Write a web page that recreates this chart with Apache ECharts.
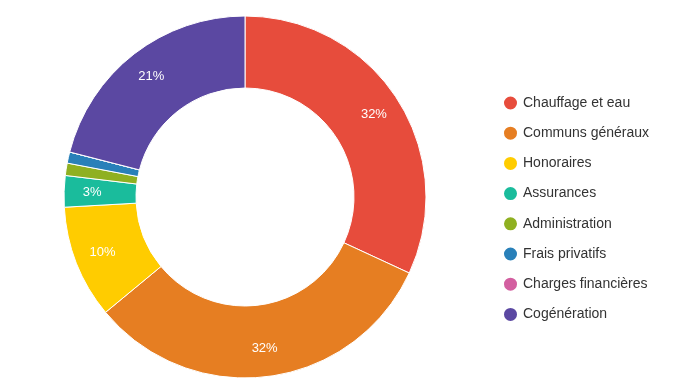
<!DOCTYPE html>
<html><head><meta charset="utf-8">
<script src="https://cdn.jsdelivr.net/npm/echarts@6/dist/echarts.min.js"></script>
<style>html,body{margin:0;padding:0;background:#fff}#c{width:682px;height:388px}</style>
</head><body><div id="c"></div>
<script>
const categories = ["Chauffage et eau","Communs généraux","Honoraires","Assurances","Administration","Frais privatifs","Charges financières","Cogénération"];
const values = [31.9, 32.1, 10.1, 2.8, 1.1, 1.0, 0, 21.0];
const colors = ["#e74c3c","#e67e22","#ffcc00","#1abc9c","#8fb021","#2980b9","#d35fa0","#5b48a2"];
const chart = echarts.init(document.getElementById('c'));
const data = categories.map((n,i)=>({name:n, value:values[i]}));
chart.setOption({
  animation:false,
  color: colors,
  textStyle:{fontFamily:'Liberation Sans'},
  legend:{
    orient:'vertical', left:502, top:94.5, padding:0, itemWidth:15, itemHeight:15, itemGap:13.2,
    icon:'circle', textStyle:{fontSize:14, color:'#333', fontFamily:'Liberation Sans'},
    data: categories
  },
  series:[{
    type:'pie', center:[245,197], radius:[109,181], startAngle:90, clockwise:true,
    itemStyle:{borderColor:'#fff', borderWidth:1},
    label:{show:false}, labelLine:{show:false},
    data: data
  },{
    type:'pie', center:[245,197], radius:[119,181], startAngle:90, clockwise:true,
    silent:true, legendHoverLink:false,
    itemStyle:{color:'rgba(0,0,0,0)', borderWidth:0},
    label:{position:'inside', color:'#fff', fontSize:13, fontFamily:'Liberation Sans',
      formatter:p=> p.percent>=2 ? Math.round(p.percent)+'%' : ''},
    labelLine:{show:false},
    data: data
  }]
});
</script></body></html>
